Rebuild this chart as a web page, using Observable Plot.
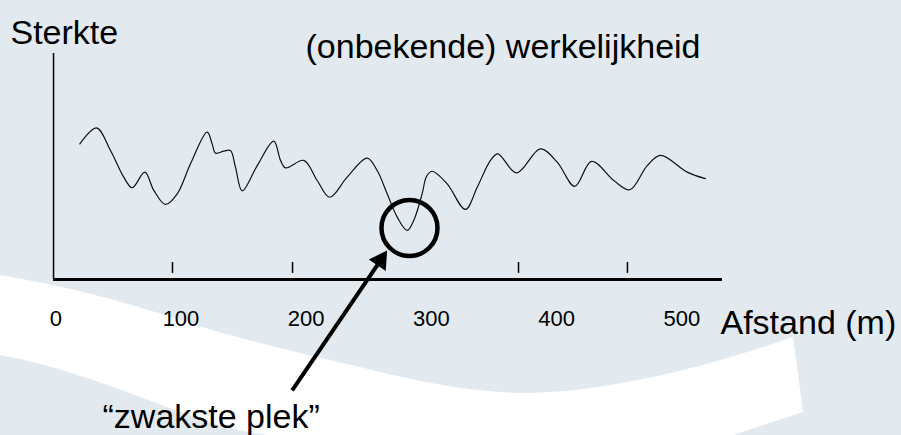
<!DOCTYPE html>
<html>
<head>
<meta charset="utf-8">
<script src="https://cdn.jsdelivr.net/npm/d3@7"></script>
<script src="https://cdn.jsdelivr.net/npm/@observablehq/plot@0.6"></script>
<style>
  html, body { margin: 0; padding: 0; width: 901px; height: 435px; overflow: hidden; background: #e2eaf0; }
  #wrap { position: relative; width: 901px; height: 435px; }
  #bg { position: absolute; left: 0; top: 0; }
  #chart { position: absolute; left: 0; top: 0; }
</style>
</head>
<body>
<div id="wrap">
  <svg id="bg" width="901" height="435" viewBox="0 0 901 435">
    <path fill="#ffffff" d="M0,275 C60,285 120,300 180,320 C250,343 320,357 380,372 C430,384 480,393 530,393 C600,392 700,370 793,337 L803,412 L733,435 L270,435 C200,430 110,375 0,355 Z"/>
  </svg>
  <div id="chart"></div>
</div>
<script>
// Distance (m) and strength of the (unknown) reality curve
const distance = [19.2, 32.5, 43.7, 54.3, 61.0, 71.1, 78.3, 87.6, 97.0, 107.6, 120.9, 124.9, 127.6, 134.2, 139.5, 143.5, 148.9, 160.9, 174.1, 179.5, 183.5, 198.1, 208.8, 218.8, 232.7, 248.7, 256.7, 264.7, 272.7, 280.7, 285.9, 292.7, 296.1, 300.6, 312.6, 327.2, 336.6, 347.2, 353.0, 368.0, 387.1, 400.5, 414.5, 427.9, 445.7, 458.5, 472.4, 483.0, 504.3, 518.9];
const strength = [60.0, 67.1, 57.1, 45.3, 40.6, 47.5, 39.4, 33.2, 37.9, 51.2, 65.2, 60.0, 55.9, 56.8, 57.1, 49.7, 39.2, 50.4, 61.2, 52.7, 49.4, 52.7, 43.8, 36.4, 45.3, 53.7, 48.2, 37.9, 27.6, 21.7, 26.1, 38.1, 45.6, 47.9, 42.3, 31.0, 40.8, 52.7, 55.6, 47.2, 57.8, 51.9, 41.2, 52.3, 43.8, 39.7, 50.4, 54.9, 47.5, 44.6];

// Axis tick labels and tick marks (in metres)
const xTickLabels = [0, 100, 200, 300, 400, 500];
const xTickMarks = [93.2, 189.1, 369.6, 456.6];
const axisStart = -1.8;
const axisEnd = 532.5;
const axisTop = 100;

// Weakest spot annotation (circle) and arrow
const weakSpot = [{x: 282.5, y: 22.8}];
const arrowTail = {x: 188.8, y: -49.1};
const arrowHead = {x: 259.4, y: 8.5};

const curve = distance.map((d, i) => ({x: d, y: strength[i]}));

const font = "Arial, 'Liberation Sans', sans-serif";

const chart = Plot.plot({
  width: 901,
  height: 435,
  margin: 0,
  style: {background: "transparent", fontFamily: font, color: "#000"},
  x: {domain: [-44.17, 675.5], axis: null},
  y: {domain: [-69.03, 123.45], axis: null},
  marks: [
    // vertical axis
    Plot.ruleX([axisStart], {y1: 0, y2: axisTop, stroke: "#000", strokeWidth: 1.5}),
    // horizontal axis
    Plot.ruleY([0], {x1: axisStart, x2: axisEnd, stroke: "#000", strokeWidth: 2.8}),
    // tick marks (floating above axis)
    Plot.ruleX(xTickMarks, {y1: 2.7, y2: 7.5, stroke: "#000", strokeWidth: 1.5}),
    // tick labels
    Plot.text(xTickLabels, {x: d => d, y: -20.4, lineAnchor: "bottom", textAnchor: "middle", fontSize: 22, fill: "#000", text: d => String(d)}),
    // the curve
    Plot.line(curve, {x: "x", y: "y", curve: "catmull-rom", stroke: "#111", strokeWidth: 1.2}),
    // weakest spot circle
    Plot.dot(weakSpot, {x: "x", y: "y", r: 28, stroke: "#000", strokeWidth: 4.5, fill: "none"}),
    // arrow shaft
    Plot.link([{x1: arrowTail.x, y1: arrowTail.y, x2: arrowHead.x, y2: arrowHead.y}], {x1: "x1", y1: "y1", x2: "x2", y2: "y2", stroke: "#000", strokeWidth: 4}),
    // arrow head
    Plot.dot([arrowHead], {x: "x", y: "y", symbol: "triangle", r: 7.6, rotate: 34, fill: "#000", stroke: "none"}),
    // labels
    Plot.text(["Sterkte"], {frameAnchor: "top-left", dx: 10, dy: 43, lineAnchor: "bottom", textAnchor: "start", fontSize: 34, fill: "#000"}),
    Plot.text(["(onbekende) werkelijkheid"], {frameAnchor: "top-left", dx: 305, dy: 57, lineAnchor: "bottom", textAnchor: "start", fontSize: 34, fill: "#000"}),
    Plot.text(["Afstand (m)"], {frameAnchor: "top-left", dx: 720, dy: 333, lineAnchor: "bottom", textAnchor: "start", fontSize: 34, fill: "#000"}),
    Plot.text(["\u201Czwakste plek\u201D"], {frameAnchor: "top-left", dx: 102, dy: 427, lineAnchor: "bottom", textAnchor: "start", fontSize: 34, fill: "#000"})
  ]
});
document.getElementById("chart").appendChild(chart);
</script>
</body>
</html>
